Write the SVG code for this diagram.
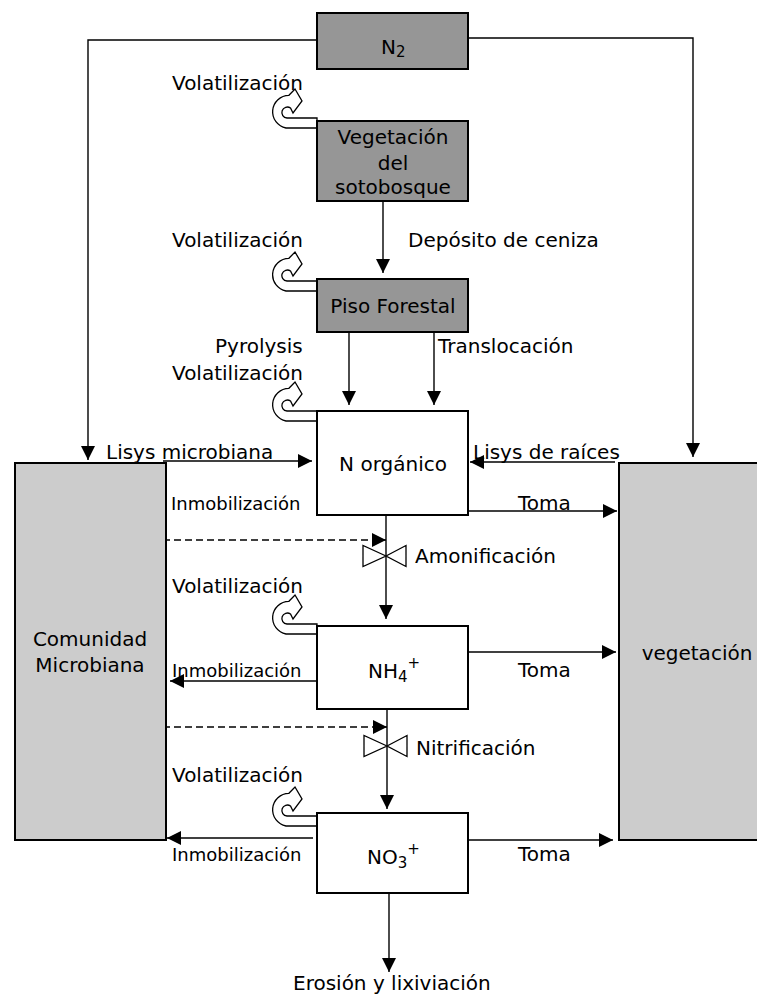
<svg xmlns="http://www.w3.org/2000/svg" width="757" height="996" viewBox="0 0 757 996">
<style>
text{font-family:"DejaVu Sans",Verdana,sans-serif;font-size:20px;fill:#000}
.sm{font-size:18px}
.mid{text-anchor:middle}
.dark{fill:#969696;stroke:#000;stroke-width:2}
.light{fill:#cccccc;stroke:#000;stroke-width:2}
.white{fill:#fff;stroke:#000;stroke-width:2}
.ln{fill:none;stroke:#000;stroke-width:1.4}
.dash{fill:none;stroke:#000;stroke-width:1.4;stroke-dasharray:7,4}
.curl{fill:#fff;stroke:#000;stroke-width:1.3;stroke-linejoin:miter}
.valve{fill:#fff;stroke:#000;stroke-width:1.3}
</style>
<defs>
<marker id="ah" markerUnits="userSpaceOnUse" markerWidth="15" markerHeight="15" refX="14" refY="7" orient="auto">
<path d="M0,0 L14,7 L0,14 Z" fill="#000"/>
</marker>
<path id="curlShape" d="M0,0 L-31,0 A16.5,16.5 0 0 1 -28.1,-32.7 L-22,-39 L-15,-27 L-24,-15 L-26.5,-20 A5.5,5.5 0 1 0 -30,-10 L0,-10 Z"/>
<g id="valveShape">
<path d="M0,0 L-23,-10.5 L-23,10.5 Z M0,0 L20,-10.5 L20,10.5 Z"/>
</g>
</defs>

<g id="connectors">
<polyline class="ln" points="317,40 88,40 88,460" marker-end="url(#ah)"/>
<polyline class="ln" points="468,38 693,38 693,457" marker-end="url(#ah)"/>
<line class="ln" x1="383" y1="201" x2="383" y2="273" marker-end="url(#ah)"/>
<line class="ln" x1="349" y1="332" x2="349" y2="405" marker-end="url(#ah)"/>
<line class="ln" x1="434" y1="332" x2="434" y2="405" marker-end="url(#ah)"/>
<line class="ln" x1="163" y1="461" x2="312" y2="461" marker-end="url(#ah)"/>
<line class="ln" x1="615" y1="462" x2="470" y2="462" marker-end="url(#ah)"/>
<line class="ln" x1="468" y1="511" x2="617" y2="511" marker-end="url(#ah)"/>
<line class="ln" x1="386" y1="515" x2="386" y2="619" marker-end="url(#ah)"/>
<line class="dash" x1="163" y1="540" x2="386" y2="540" marker-end="url(#ah)"/>
<line class="ln" x1="317" y1="681" x2="170" y2="681" marker-end="url(#ah)"/>
<line class="ln" x1="468" y1="652" x2="616" y2="652" marker-end="url(#ah)"/>
<line class="ln" x1="387" y1="709" x2="387" y2="809" marker-end="url(#ah)"/>
<line class="dash" x1="163" y1="727" x2="387" y2="727" marker-end="url(#ah)"/>
<line class="ln" x1="313" y1="838" x2="167" y2="838" marker-end="url(#ah)"/>
<line class="ln" x1="464" y1="840" x2="613" y2="840" marker-end="url(#ah)"/>
<line class="ln" x1="389" y1="893" x2="389" y2="972" marker-end="url(#ah)"/>
<use href="#valveShape" class="valve" transform="translate(386,556)"/>
<use href="#valveShape" class="valve" transform="translate(387,746)"/>
<use href="#curlShape" class="curl" transform="translate(317,128)"/>
<use href="#curlShape" class="curl" transform="translate(317,291)"/>
<use href="#curlShape" class="curl" transform="translate(317,421)"/>
<use href="#curlShape" class="curl" transform="translate(317,634)"/>
<use href="#curlShape" class="curl" transform="translate(317,826)"/>
</g>

<g id="n2">
<rect class="dark" x="317" y="13" width="151" height="56"/>
<text x="381" y="54">N<tspan font-size="15" dy="3">2</tspan></text>
</g>
<g id="vegetacion-sotobosque">
<rect class="dark" x="317" y="121" width="151" height="80"/>
<text class="mid" x="393" y="144">Vegetación</text>
<text class="mid" x="393" y="170">del</text>
<text class="mid" x="393" y="194">sotobosque</text>
</g>
<g id="piso-forestal">
<rect class="dark" x="317" y="279" width="151" height="53"/>
<text class="mid" x="393" y="313">Piso Forestal</text>
</g>
<g id="n-organico">
<rect class="white" x="317" y="411" width="151" height="104"/>
<text class="mid" x="393" y="471">N orgánico</text>
</g>
<g id="nh4">
<rect class="white" x="317" y="626" width="151" height="83"/>
<text x="368" y="678">NH<tspan font-size="15" dy="4">4</tspan><tspan font-size="15" dy="-14">+</tspan></text>
</g>
<g id="no3">
<rect class="white" x="317" y="813" width="151" height="80"/>
<text x="367" y="864">NO<tspan font-size="15" dy="4">3</tspan><tspan font-size="15" dy="-14">+</tspan></text>
</g>
<g id="comunidad">
<rect class="light" x="15" y="463" width="151" height="377"/>
<text class="mid" x="90" y="646">Comunidad</text>
<text class="mid" x="90" y="672">Microbiana</text>
</g>
<g id="vegetacion">
<rect class="light" x="619" y="463" width="150" height="377"/>
<text class="mid" x="697" y="660">vegetación</text>
</g>

<g id="labels">
<text x="172" y="90">Volatilización</text>
<text x="172" y="247">Volatilización</text>
<text x="408" y="247">Depósito de ceniza</text>
<text x="215" y="353">Pyrolysis</text>
<text x="172" y="380">Volatilización</text>
<text x="438" y="353">Translocación</text>
<text x="106" y="459">Lisys microbiana</text>
<text x="473" y="459">Lisys de raíces</text>
<text class="sm" x="171" y="510">Inmobilización</text>
<text x="518" y="510">Toma</text>
<text x="415" y="563">Amonificación</text>
<text x="172" y="593">Volatilización</text>
<text class="sm" x="172" y="677">Inmobilización</text>
<text x="518" y="677">Toma</text>
<text x="416" y="755">Nitrificación</text>
<text x="172" y="782">Volatilización</text>
<text class="sm" x="172" y="861">Inmobilización</text>
<text x="518" y="861">Toma</text>
<text x="293" y="990">Erosión y lixiviación</text>
</g>
</svg>
